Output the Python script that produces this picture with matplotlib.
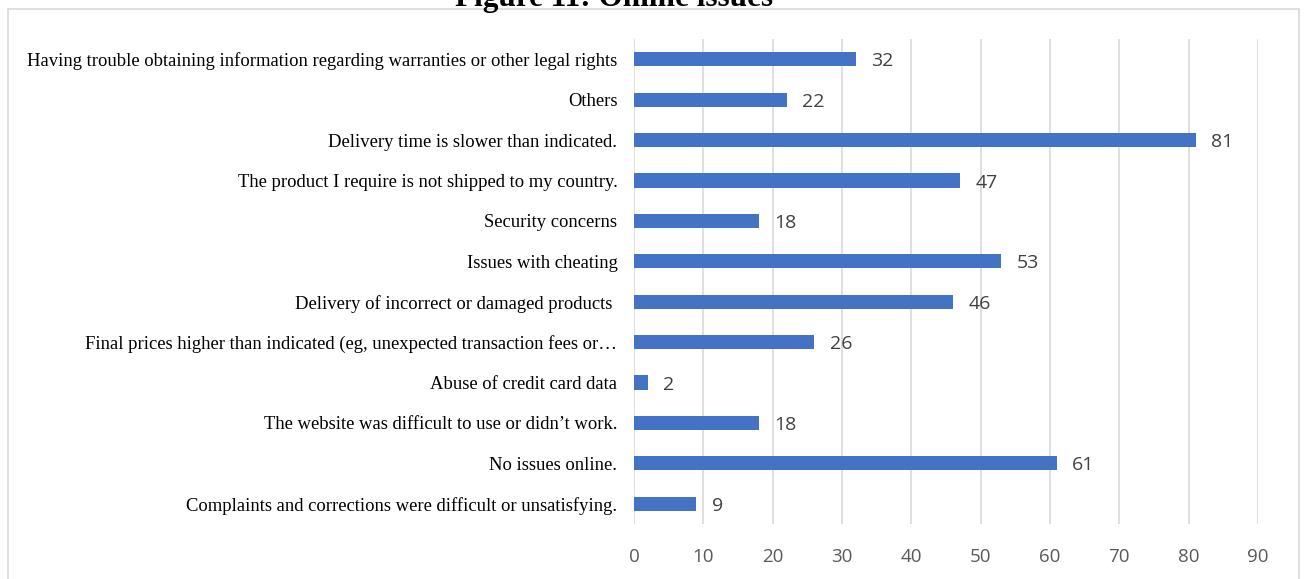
import matplotlib.pyplot as plt
from matplotlib.patches import Rectangle

issues = ["Having trouble obtaining information regarding warranties or other legal rights",
          "Others",
          "Delivery time is slower than indicated.",
          "The product I require is not shipped to my country.",
          "Security concerns",
          "Issues with cheating",
          "Delivery of incorrect or damaged products ",
          "Final prices higher than indicated (eg, unexpected transaction fees or\u2026",
          "Abuse of credit card data",
          "The website was difficult to use or didn\u2019t work.",
          "No issues online.",
          "Complaints and corrections were difficult or unsatisfying."]
counts = [32, 22, 81, 47, 18, 53, 46, 26, 2, 18, 61, 9]
xticks = [0, 10, 20, 30, 40, 50, 60, 70, 80, 90]

# first item on top
issues = issues[::-1]
counts = counts[::-1]

fig = plt.figure(figsize=(13.06, 5.79), dpi=100)
ax = fig.add_axes([0.4855, 0.095, 0.4777, 0.8375])

# chart frame
fig.patches.append(Rectangle((8 / 1306, -0.05), (1299 - 8) / 1306, 1 - 9 / 579 + 0.05,
                             transform=fig.transFigure, fill=False,
                             edgecolor="#d9d9d9", linewidth=1.2))

# title is cut off at the top, as in the source image
fig.text(614 / 1306, 1 - 6 / 579, "Figure 11: Online issues", ha="center", va="baseline",
         fontsize=22.5, fontweight="bold", family="Liberation Serif")

ypos = range(len(issues))
ax.barh(ypos, counts, height=0.35, color="#4472C4", zorder=3)
for y, v in zip(ypos, counts):
    ax.annotate(str(v), (v, y), xytext=(11, -1.5), textcoords="offset points",
                va="center", ha="left", fontsize=14, color="#404040", family="Open Sans")

ax.set_xlim(0, 90)
ax.set_ylim(-0.5, len(issues) - 0.5)
ax.set_xticks(xticks)
ax.set_yticks(list(ypos))
ax.set_yticklabels(issues, family="Liberation Serif", fontsize=13.4, color="black")
for lbl in ax.get_xticklabels():
    lbl.set_family("Open Sans")
    lbl.set_fontsize(13.5)
    lbl.set_color("#595959")
ax.tick_params(axis="both", length=0)
ax.tick_params(axis="y", pad=12)
ax.tick_params(axis="x", pad=17)
ax.grid(axis="x", color="#d9d9d9", linewidth=1.2, zorder=0)
for s in ax.spines.values():
    s.set_visible(False)

plt.savefig("out.png", dpi=100)
